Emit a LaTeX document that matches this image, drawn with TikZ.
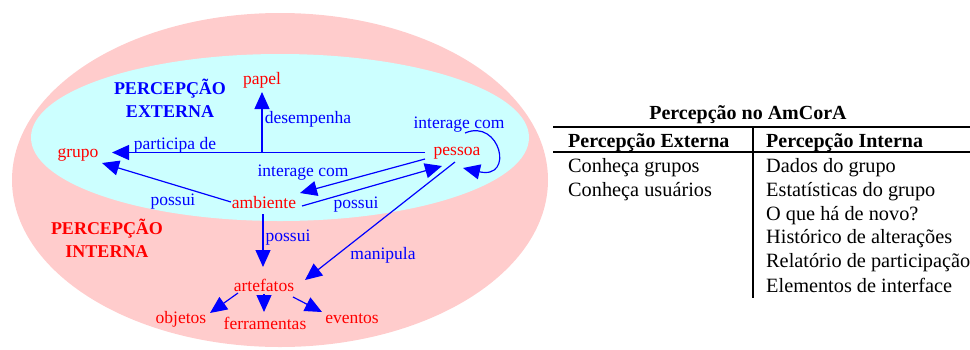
\documentclass[tikz,border=0pt]{standalone}
\usepackage{fontspec}
\setmainfont{Liberation Serif}
\usetikzlibrary{arrows.meta,calc}
\definecolor{pinkbg}{RGB}{255,204,204}
\definecolor{cyanbg}{RGB}{204,255,255}
\definecolor{dblue}{RGB}{0,0,255}
\definecolor{dred}{RGB}{255,0,0}
\tikzset{
  concept/.style={text=dred,inner sep=0pt,font=\fontsize{17.5}{20}\selectfont},
  rel/.style={text=dblue,inner sep=0pt,font=\fontsize{17.5}{20}\selectfont},
  heading/.style={inner sep=0pt,align=center,font=\fontsize{18}{23}\selectfont\bfseries},
  arr/.style={draw=dblue,line width=1.2pt,-{Triangle[length=17pt,width=15pt]}},
  cell/.style={inner sep=0pt,anchor=base west,font=\fontsize{20.3}{24}\selectfont},
  hcell/.style={cell,font=\fontsize{20}{24}\selectfont\bfseries},
  rule/.style={draw=black,line width=1.5pt}
}
\begin{document}
\begin{tikzpicture}[x=1pt,y=-1pt]
\useasboundingbox (0,0) rectangle (970,349);
% backgrounds
\fill[pinkbg] (280,180) ellipse [x radius=268, y radius=167];
\fill[cyanbg] (280,137.5) ellipse [x radius=249, y radius=83.5];
% headings
\node[heading,text=dblue] (pext) at (170,98.5) {PERCEPÇÃO\\EXTERNA};
\node[heading,text=dred] (pint) at (107,238.5) {PERCEPÇÃO\\INTERNA};
% concepts
\node[concept] (papel) at (262,80) {papel};
\node[concept] (grupo) at (78,155) {grupo};
\node[concept] (pessoa) at (457,153) {pessoa};
\node[concept] (ambiente) at (264,203) {ambiente};
\node[concept] (artefatos) at (264,285) {artefatos};
\node[concept] (objetos) at (181,319) {objetos};
\node[concept] (ferramentas) at (265,323) {ferramentas};
\node[concept] (eventos) at (352,319) {eventos};
% relation labels
\node[rel] (lpart) at (175,145) {participa de};
\node[rel] (ldes) at (308,119) {desempenha};
\node[rel] (lself) at (459,125) {interage com};
\node[rel] (linter) at (303,173) {interage com};
\node[rel] (lposl) at (173,202) {possui};
\node[rel] (lposr) at (356,205) {possui};
\node[rel] (lposd) at (288,238) {possui};
\node[rel] (lman) at (383,255) {manipula};
% connectors
\coordinate (junc) at (262,152.5);
\draw[arr] ($(pessoa)+(-32,-0.5)$) -- ($(grupo)+(34,-2.5)$);
\draw[arr] (junc) -- ($(papel)+(0,12)$);
\draw[arr] ($(ambiente)+(-33,-1)$) -- ($(grupo)+(24,8)$);
\draw[arr] ($(pessoa)+(-32,6)$) -- ($(ambiente)+(36,-10)$);
\draw[arr] ($(ambiente)+(38,3)$) -- ($(pessoa)+(-15,13)$);
\draw[arr] ($(pessoa)+(8,-20)$) .. controls (500,118) and (515,180) .. ($(pessoa)+(6,15)$);
\draw[arr] ($(ambiente)+(-1,11)$) -- ($(artefatos)+(-1,-18)$);
\draw[arr] ($(pessoa)+(-2,9)$) -- ($(artefatos)+(41,-5)$);
\draw[arr] ($(artefatos)+(-26,8)$) -- ($(objetos)+(29,-6)$);
\draw[arr] ($(artefatos)+(0,9)$) -- ($(ferramentas)+(-1,-11)$);
\draw[arr] ($(artefatos)+(29,12)$) -- ($(eventos)+(-30,-7)$);
% table
\node[inner sep=0pt,anchor=base,font=\fontsize{20}{24}\selectfont\bfseries] (ttitle) at (748,119) {Percepção no AmCorA};
\draw[rule] (553,127) -- (975,127);
\draw[rule] (553,152) -- (975,152);
\draw[rule,line width=1.3pt] (753,127) -- (753,298);
\node[hcell] (h1) at (568,147) {Percepção Externa};
\node[hcell] (h2) at (766,147) {Percepção Interna};
\node[cell] (a1) at (568,172) {Conheça grupos};
\node[cell] (a2) at (568,196) {Conheça usuários};
\node[cell] (b1) at (766,172) {Dados do grupo};
\node[cell] (b2) at (766,196) {Estatísticas do grupo};
\node[cell] (b3) at (766,220) {O que há de novo?};
\node[cell] (b4) at (766,243) {Histórico de alterações};
\node[cell] (b5) at (766,267) {Relatório de participação};
\node[cell] (b6) at (766,292) {Elementos de interface};
\end{tikzpicture}
\end{document}
